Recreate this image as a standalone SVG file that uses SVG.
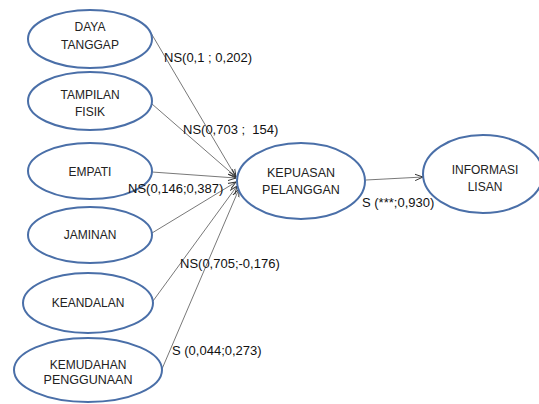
<svg xmlns="http://www.w3.org/2000/svg" width="539" height="404" viewBox="0 0 539 404">
<style>
.n ellipse{fill:#fff;stroke:#4a6fa8;stroke-width:2}
.n text{font-family:"Liberation Sans",Arial,sans-serif;font-size:12px;fill:#222;text-anchor:middle}
.n text.b{font-size:12.5px}
.c line{stroke:#555;stroke-width:0.8;marker-end:url(#ah)}
.l{font-family:"Liberation Sans",Arial,sans-serif;font-size:13px;fill:#111;white-space:pre}
</style>
<defs>
<marker id="ah" viewBox="0 0 10 10" refX="10" refY="5" markerWidth="8" markerHeight="8" markerUnits="userSpaceOnUse" orient="auto">
<path d="M0,1 L10,5 L0,9" fill="none" stroke="#333" stroke-width="1.2"/>
</marker>
</defs>
<rect width="539" height="404" fill="#fff"/>
<g class="c" id="connectors">
<line x1="151" y1="33" x2="236" y2="177"/>
<line x1="152" y1="104" x2="236" y2="177"/>
<line x1="152" y1="172" x2="236" y2="178"/>
<line x1="152" y1="233" x2="236" y2="182"/>
<line x1="153" y1="301" x2="237" y2="186"/>
<line x1="162" y1="369" x2="239" y2="189"/>
<line x1="366" y1="180" x2="423" y2="177"/>
</g>
<g class="n" id="daya"><ellipse cx="90" cy="39" rx="62" ry="29"/><text x="90" y="31">DAYA</text><text x="90" y="49">TANGGAP</text></g>
<g class="n" id="tampilan"><ellipse cx="90" cy="101" rx="62" ry="29"/><text x="90" y="99">TAMPILAN</text><text x="90" y="116">FISIK</text></g>
<g class="n" id="empati"><ellipse cx="90" cy="171" rx="62" ry="28"/><text x="90" y="176">EMPATI</text></g>
<g class="n" id="jaminan"><ellipse cx="90" cy="235" rx="62" ry="28"/><text x="90" y="239">JAMINAN</text></g>
<g class="n" id="keandalan"><ellipse cx="88" cy="303" rx="65" ry="30"/><text x="88" y="307">KEANDALAN</text></g>
<g class="n" id="kemudahan"><ellipse cx="88" cy="370" rx="74" ry="32"/><text x="88" y="369">KEMUDAHAN</text><text class="b" x="88" y="384">PENGGUNAAN</text></g>
<g class="n" id="kepuasan"><ellipse cx="301" cy="181" rx="64" ry="38"/><text class="b" x="301" y="177">KEPUASAN</text><text class="b" x="301" y="194">PELANGGAN</text></g>
<g class="n" id="informasi"><ellipse cx="483" cy="174" rx="60" ry="39"/><text x="485" y="174">INFORMASI</text><text x="485" y="191">LISAN</text></g>
<g id="labels">
<text class="l" x="164" y="62">NS(0,1 ; 0,202)</text>
<text class="l" x="183" y="134" xml:space="preserve">NS(0,703 ;  154)</text>
<text class="l" x="128" y="193">NS(0,146;0,387)</text>
<text class="l" x="180" y="268">NS(0,705;-0,176)</text>
<text class="l" x="172" y="355">S (0,044;0,273)</text>
<text class="l" x="362" y="207">S (***;0,930)</text>
</g>
</svg>
